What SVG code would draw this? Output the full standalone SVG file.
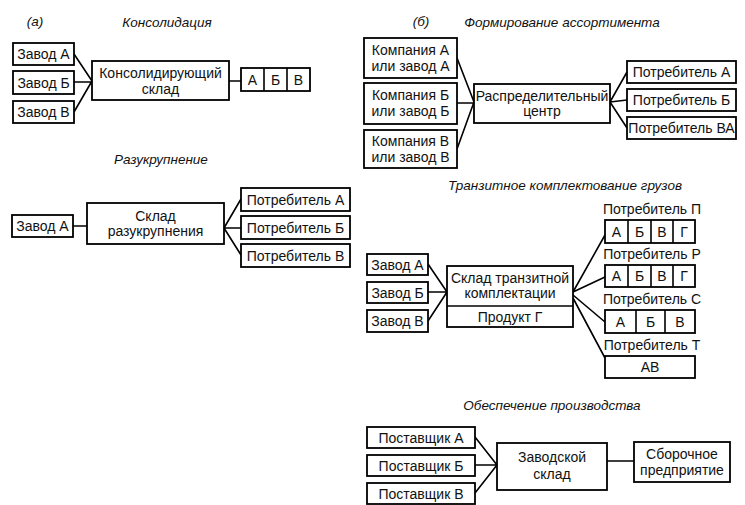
<svg xmlns="http://www.w3.org/2000/svg" width="745" height="505" viewBox="0 0 745 505">
<style>
.b{fill:#fff;stroke:#000;stroke-width:1.8}
.l{fill:none;stroke:#000;stroke-width:1.6}
text{font-family:"Liberation Sans",Arial,sans-serif;font-size:14px;fill:#111;text-anchor:middle;dominant-baseline:central}
.t{font-style:italic;font-size:13.5px}
</style>
<rect width="745" height="505" fill="#fff"/>
<g id="titles">
<text x="35" y="21" class="t">(<tspan font-style="italic">а</tspan>)</text>
<text x="167" y="22" class="t">Консолидация</text>
<text x="161" y="159" class="t">Разукрупнение</text>
<text x="421" y="21" class="t">(б)</text>
<text x="562" y="22" class="t">Формирование ассортимента</text>
<text x="565" y="185" class="t">Транзитное комплектование грузов</text>
<text x="552" y="405" class="t">Обеспечение производства</text>
</g>
<g id="connectors">
<path class="l" d="M74 54L92 81M74 82H92M74 112L92 81M229 81H241"/>
<path class="l" d="M73 226H87M224 228L241 199M224 228H241M224 228L241 255"/>
<path class="l" d="M457 58L474 102M457 103H474M457 149L474 102M610 102L627 72M610 102L627 100M610 102L627 128"/>
<path class="l" d="M428 264L447 292M428 292H447M428 321L447 292M573 292L605 235M573 292L605 277M573 295L605 322M573 298L605 358"/>
<path class="l" d="M475 437L497 465M475 465H497M475 493L497 465M607 461H634"/>
</g>
<g id="a-zavodA"><rect class="b" x="13" y="43" width="61" height="22"/><text x="43.5" y="54">Завод А</text></g>
<g id="a-zavodB"><rect class="b" x="13" y="71" width="61" height="23"/><text x="43.5" y="82.5">Завод Б</text></g>
<g id="a-zavodV"><rect class="b" x="13" y="101" width="61" height="22"/><text x="43.5" y="112">Завод В</text></g>
<g id="a-kons"><rect class="b" x="92" y="61" width="137" height="39"/><text x="160.5" y="73">Консолидирующий</text><text x="160.5" y="89">склад</text></g>
<g id="a-abv"><rect class="b" x="241" y="68" width="69" height="23"/><path class="l" d="M264 68V91M287 68V91"/><text x="252.5" y="79.5">А</text><text x="275.5" y="79.5">Б</text><text x="298.5" y="79.5">В</text></g>

<g id="r-zavodA"><rect class="b" x="12" y="215" width="61" height="22"/><text x="42.5" y="226">Завод А</text></g>
<g id="r-sklad"><rect class="b" x="87" y="203" width="137" height="41"/><text x="155.5" y="216">Склад</text><text x="155.5" y="231">разукрупнения</text></g>
<g id="r-potrA"><rect class="b" x="241" y="188" width="109" height="23"/><text x="295.5" y="199.5">Потребитель А</text></g>
<g id="r-potrB"><rect class="b" x="241" y="216" width="109" height="23"/><text x="295.5" y="227.5">Потребитель Б</text></g>
<g id="r-potrV"><rect class="b" x="241" y="244" width="109" height="23"/><text x="295.5" y="255.5">Потребитель В</text></g>

<g id="f-kompA"><rect class="b" x="364" y="38" width="93" height="40"/><text x="410.5" y="50">Компания А</text><text x="410.5" y="66">или завод А</text></g>
<g id="f-kompB"><rect class="b" x="364" y="83" width="93" height="41"/><text x="410.5" y="95">Компания Б</text><text x="410.5" y="111">или завод Б</text></g>
<g id="f-kompV"><rect class="b" x="364" y="130" width="93" height="38"/><text x="410.5" y="141">Компания В</text><text x="410.5" y="157">или завод В</text></g>
<g id="f-rc"><rect class="b" x="474" y="84" width="136" height="39"/><text x="542" y="96">Распределительный</text><text x="542" y="111">центр</text></g>
<g id="f-potrA"><rect class="b" x="627" y="61" width="109" height="22"/><text x="681.5" y="72">Потребитель А</text></g>
<g id="f-potrB"><rect class="b" x="627" y="89" width="109" height="22"/><text x="681.5" y="100">Потребитель Б</text></g>
<g id="f-potrVA"><rect class="b" x="627" y="117" width="109" height="22"/><text x="681.5" y="128">Потребитель ВА</text></g>

<g id="t-zavodA"><rect class="b" x="367" y="254" width="61" height="21"/><text x="397.5" y="264.5">Завод А</text></g>
<g id="t-zavodB"><rect class="b" x="367" y="282" width="61" height="21"/><text x="397.5" y="292.5">Завод Б</text></g>
<g id="t-zavodV"><rect class="b" x="367" y="310" width="61" height="22"/><text x="397.5" y="321">Завод В</text></g>
<g id="t-sklad"><rect class="b" x="447" y="266" width="126" height="61"/><path class="l" d="M447 306H573"/><text x="510" y="278">Склад транзитной</text><text x="510" y="293">комплектации</text><text x="510" y="316.5">Продукт Г</text></g>
<g id="t-potrP"><text x="652" y="209">Потребитель П</text><rect class="b" x="605" y="220" width="90" height="23"/><path class="l" d="M628 220V243M651 220V243M673 220V243"/><text x="616.5" y="231.5">А</text><text x="639.5" y="231.5">Б</text><text x="662" y="231.5">В</text><text x="684" y="231.5">Г</text></g>
<g id="t-potrR"><text x="652" y="254">Потребитель Р</text><rect class="b" x="605" y="265" width="90" height="22"/><path class="l" d="M628 265V287M651 265V287M673 265V287"/><text x="616.5" y="276">А</text><text x="639.5" y="276">Б</text><text x="662" y="276">В</text><text x="684" y="276">Г</text></g>
<g id="t-potrS"><text x="652" y="299">Потребитель С</text><rect class="b" x="605" y="310" width="90" height="23"/><path class="l" d="M636 310V333M665 310V333"/><text x="620.5" y="321.5">А</text><text x="650.5" y="321.5">Б</text><text x="680" y="321.5">В</text></g>
<g id="t-potrT"><text x="652" y="345">Потребитель Т</text><rect class="b" x="605" y="356" width="90" height="22"/><text x="650" y="367">АВ</text></g>

<g id="o-postA"><rect class="b" x="367" y="427" width="108" height="21"/><text x="421" y="437.5">Поставщик А</text></g>
<g id="o-postB"><rect class="b" x="367" y="455" width="108" height="21"/><text x="421" y="465.5">Поставщик Б</text></g>
<g id="o-postV"><rect class="b" x="367" y="483" width="108" height="21"/><text x="421" y="493.5">Поставщик В</text></g>
<g id="o-zavsklad"><rect class="b" x="497" y="443" width="110" height="47"/><text x="552" y="457">Заводской</text><text x="552" y="474">склад</text></g>
<g id="o-sborka"><rect class="b" x="634" y="442" width="96" height="40"/><text x="682" y="454">Сборочное</text><text x="682" y="470">предприятие</text></g>
</svg>
